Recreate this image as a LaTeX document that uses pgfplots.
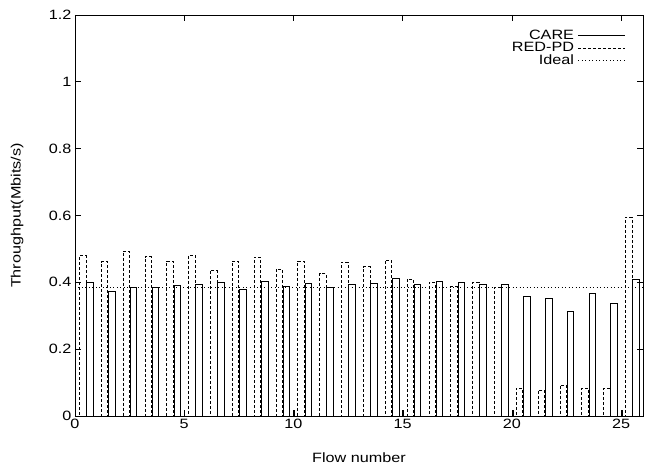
\documentclass[border=0pt]{standalone}
\usepackage{pgfplots}
\pgfplotsset{compat=1.18}
\usepackage{pgfplotstable}
\usepackage{fontspec}
\setmainfont{Liberation Sans}[FakeStretch=1.2]

\pgfplotstableread{
flow redpd care
0 0.480 0.399
1 0.462 0.372
2 0.494 0.386
3 0.477 0.385
4 0.463 0.390
5 0.482 0.394
6 0.436 0.400
7 0.463 0.380
8 0.475 0.404
9 0.439 0.387
10 0.463 0.398
11 0.427 0.384
12 0.460 0.393
13 0.447 0.396
14 0.466 0.411
15 0.410 0.393
16 0.399 0.404
17 0.387 0.399
18 0.400 0.394
19 0.384 0.394
20 0.083 0.359
21 0.078 0.353
22 0.093 0.313
23 0.083 0.366
24 0.083 0.338
25 0.595 0.410
}\flows

\begin{document}
\begin{tikzpicture}[font=\fontsize{13.5bp}{15bp}\selectfont]
\begin{axis}[
  scale only axis,
  width=568bp, height=401bp,
  xmin=0, xmax=26, ymin=0, ymax=1.2,
  xtick={0,5,10,15,20,25},
  ytick={0,0.2,0.4,0.6,0.8,1,1.2},
  yticklabels={0,0.2,0.4,0.6,0.8,1,1.2},
  tick align=inside,
  major tick length=6bp,
  axis line style={line width=0.8bp},
  every tick/.style={black, line width=0.8bp},
  /pgf/number format/assume math mode=true,
  tick label style={font=\fontsize{13.5bp}{15bp}\selectfont},
  label style={font=\fontsize{13.5bp}{15bp}\selectfont},
  xlabel={Flow number},
  ylabel={Throughput(Mbits/s)},
  xlabel style={at={(axis description cs:0.5,-0.105)}, anchor=center},
  ylabel style={at={(axis description cs:-0.102,0.5)}, anchor=center},
  legend cell align=right,
  legend plot pos=right,
  legend style={draw=none, fill=none, at={(1,1)}, anchor=north east,
    xshift=-14bp, yshift=-11bp, row sep=-2.5bp,
    font=\fontsize{13.5bp}{15bp}\selectfont,
    nodes={inner xsep=4bp}},
]
\addplot[ybar, bar width=0.3, bar shift=0pt, black, line width=0.8bp, fill=none,
  legend image code/.code={\draw[black, line width=0.8bp] (0,0) -- (47bp,0);}]
  table[x expr=\thisrow{flow}+0.68, y=care] {\flows};
\addlegendentry{CARE}
\addplot[ybar, bar width=0.3, bar shift=0pt, black, line width=0.8bp, fill=none,
  dash pattern=on 3bp off 2bp,
  legend image code/.code={\draw[black, line width=0.8bp, dash pattern=on 3bp off 2bp] (0,0) -- (47bp,0);}]
  table[x expr=\thisrow{flow}+0.35, y=redpd] {\flows};
\addlegendentry{RED-PD}
\addplot[black, line width=0.8bp, dash pattern=on 1bp off 2.5bp,
  legend image code/.code={\draw[black, line width=0.8bp, dash pattern=on 1bp off 2.5bp] (0,0) -- (47bp,0);}]
  coordinates {(0,0.385) (26,0.385)};
\addlegendentry{Ideal}
\addplot[ycomb, black, line width=0.8bp, mark=none, forget plot]
  coordinates {(5.02,0.017) (10.05,0.017) (15.05,0.017) (20.05,0.017) (25.07,0.017)};
\end{axis}
\pgfresetboundingbox
\path[use as bounding box] ([xshift=-75bp,yshift=-52bp]current axis.south west) rectangle ([xshift=2bp,yshift=15bp]current axis.north east);
\end{tikzpicture}
\end{document}
